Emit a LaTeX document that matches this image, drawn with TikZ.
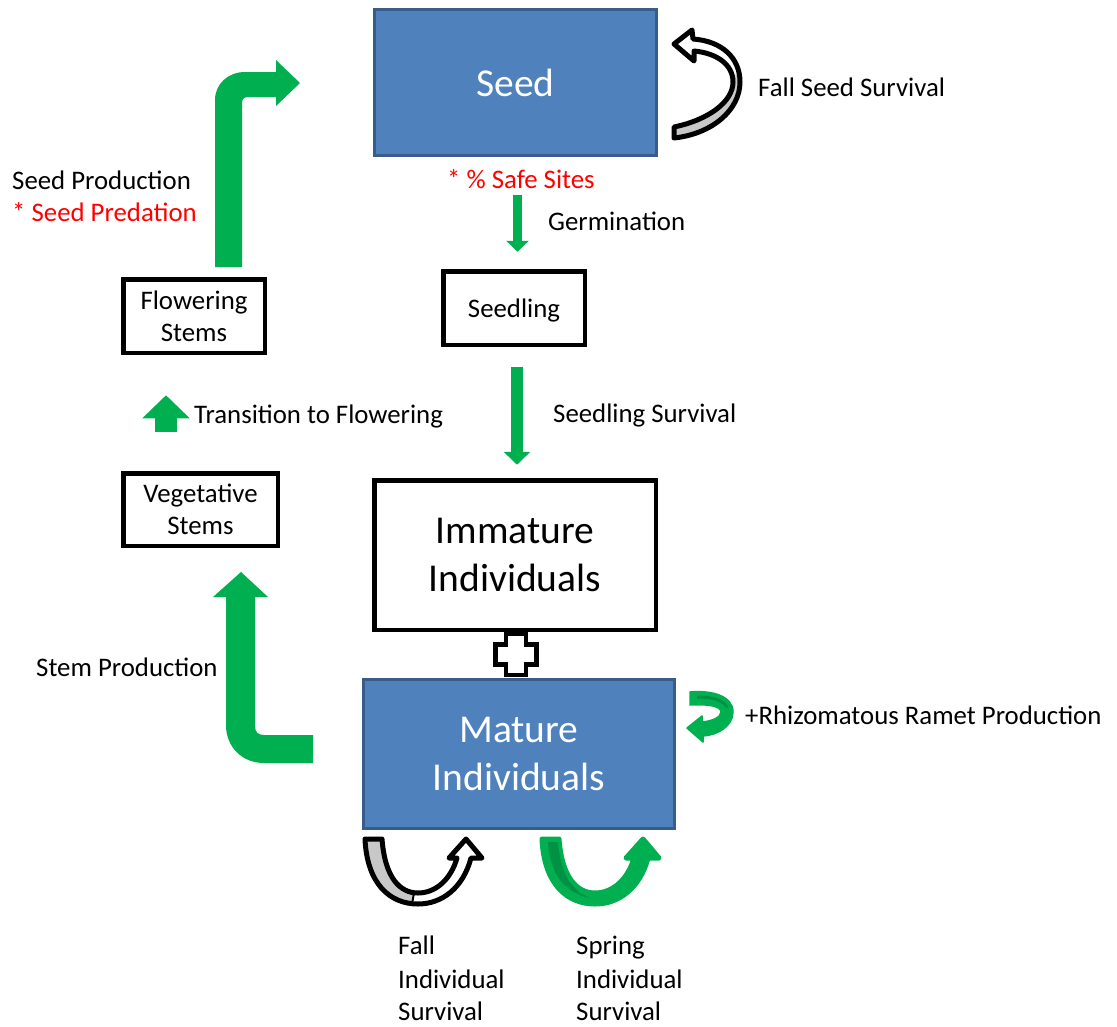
\documentclass[tikz,border=0pt]{standalone}
\usepackage{fontspec}
\setmainfont{Carlito}
\usetikzlibrary{arrows.meta,calc}
\definecolor{myblue}{RGB}{79,129,189}
\definecolor{mybluedark}{RGB}{56,93,138}
\definecolor{mygreen}{RGB}{0,176,80}
\definecolor{mydarkgreen}{RGB}{0,146,68}
\definecolor{mygray}{RGB}{200,200,200}
\definecolor{myred}{RGB}{255,0,0}
\tikzset{
  lbl/.style={font=\fontsize{26.8}{32}\selectfont, inner sep=0pt, anchor=base west},
  bluebox/.style={fill=myblue, draw=mybluedark, line width=3pt, inner sep=0pt, text=white,
    font=\fontsize{39.5}{48.5}\selectfont, align=center},
  blackbox/.style={draw=black, line width=4.5pt, fill=white, inner sep=0pt, align=center,
    font=\fontsize{26.8}{32}\selectfont},
  bigblack/.style={blackbox, font=\fontsize{39.5}{48.5}\selectfont},
  gflow/.style={draw=mygreen, line cap=butt},
}
\begin{document}
\begin{tikzpicture}[x=1pt,y=-1pt]
\fill[white] (0,0) rectangle (1117,1026);
\useasboundingbox (0,0) rectangle (1117,1026);

% ---------- boxes ----------
\node[bluebox, minimum width=282pt, minimum height=146pt] (seed) at (515.5,82.5) {Seed};
\node[blackbox, minimum width=141.5pt, minimum height=73.5pt, text depth=0pt] (seedling) at (514,308) {Seedling};
\node[blackbox, minimum width=141.5pt, minimum height=73.5pt] (flower) at (194,316) {Flowering\\Stems};
\node[blackbox, minimum width=154.5pt, minimum height=72.5pt] (veg) at (200.5,509.5) {Vegetative\\Stems};
\node[bigblack, minimum width=281.5pt, minimum height=149.5pt] (immature) at (515,555) {Immature\\Individuals};
\node[bluebox, minimum width=311pt, minimum height=149pt] (mature) at (519,754) {Mature\\Individuals};

% ---------- straight green arrows ----------
\draw[gflow, line width=9pt, -{Triangle[length=11pt,width=22pt]}]
  ($(seed.south)+(2,37.5)$) -- ($(seedling.north)+(3.5,-17.25)$);
\draw[gflow, line width=12pt, -{Triangle[length=13pt,width=26pt]}]
  ($(seedling.south)+(3,20.25)$) -- ($(immature.north)+(2,-13.25)$);
\draw[gflow, line width=22pt, -{Triangle[length=23pt,width=46pt]}]
  ($(veg.north)+(-34.5,-39.25)$) -- ($(flower.south)+(-28,40.25)$);

% ---------- bent arrow: seed production ----------
\fill[mygreen] (215,267) -- (215,100) .. controls (215,84) and (228,72) .. (245,72) -- (276,72)
  -- (276,60) -- (300,83) -- (276,106) -- (276,97) -- (248,97)
  .. controls (244,97) and (242,99) .. (242,103) -- (242,267) -- cycle;

% ---------- bent arrow: stem production ----------
\fill[mygreen] (226,597) -- (213,597) -- (241,572) -- (268,597) -- (255,597) -- (255,726)
  .. controls (255,732) and (258,735) .. (264,735) -- (313,735) -- (313,763) -- (264,763)
  .. controls (242,763) and (226,747) .. (226,725) -- cycle;

% ---------- plus sign ----------
\filldraw[fill=white, draw=black, line width=4.5pt]
  (506,634) -- (526,634) -- (526,644.5) -- (536.5,644.5) -- (536.5,664.5) -- (526,664.5)
  -- (526,675) -- (506,675) -- (506,664.5) -- (495.5,664.5) -- (495.5,644.5) -- (506,644.5) -- cycle;

% ---------- fall seed survival curved arrow ----------
\fill[white] (674,127) .. controls (708,120) and (733,102) .. (733,82) .. controls (733,64) and (716,53) .. (694,51)
  -- (694,61) -- (674,44) -- (692,30) -- (693,39) .. controls (722,41) and (740,58) .. (740,82)
  .. controls (740,110) and (712,134) .. (674,138) -- cycle;
\fill[mygray] (674,127) .. controls (708,120) and (733,102) .. (736,72) -- (740,82)
  .. controls (740,110) and (712,134) .. (674,138) -- cycle;
\draw[black, line width=5pt, line join=round] (674,127) .. controls (708,120) and (733,102) .. (733,82) .. controls (733,64) and (716,53) .. (694,51)
  -- (694,61) -- (674,44) -- (692,30) -- (693,39) .. controls (722,41) and (740,58) .. (740,82)
  .. controls (740,110) and (712,134) .. (674,138) -- cycle;

% ---------- fall individual survival U arrow ----------
\fill[white] (365,839) -- (382,839) .. controls (385,878) and (400,893) .. (418,893) .. controls (436,893) and (451,879) .. (457,858)
  -- (449,858) -- (466,839) -- (482,858) -- (471,858) .. controls (463,888) and (442,904) .. (418,904)
  .. controls (390,904) and (367,884) .. (365,839) -- cycle;
\fill[mygray] (365,839) -- (382,839) .. controls (385,878) and (400,893) .. (414,893) -- (412,904)
  .. controls (388,902) and (367,884) .. (365,839) -- cycle;
\draw[black, line width=5pt, line join=round] (365,839) -- (382,839) .. controls (385,878) and (400,893) .. (418,893) .. controls (436,893) and (451,879) .. (457,858)
  -- (449,858) -- (466,839) -- (482,858) -- (471,858) .. controls (463,888) and (442,904) .. (418,904)
  .. controls (390,904) and (367,884) .. (365,839) -- cycle;
\draw[black, line width=2pt] (414,893) -- (412,904);

% ---------- spring individual survival U arrow ----------
\begin{scope}[xshift=177pt]
\filldraw[fill=mygreen, draw=mygreen, line width=5pt, line join=round] (365,839) -- (382,839) .. controls (385,878) and (400,893) .. (418,893) .. controls (436,893) and (451,879) .. (457,858)
  -- (449,858) -- (466,839) -- (482,858) -- (471,858) .. controls (463,888) and (442,904) .. (418,904)
  .. controls (390,904) and (367,884) .. (365,839) -- cycle;
\fill[mydarkgreen] (371,842) -- (381,842) .. controls (384,876) and (395,890) .. (413,898)
  .. controls (389,893) and (373,876) .. (371,842) -- cycle;
\end{scope}

% ---------- rhizomatous curved arrow ----------
\filldraw[fill=mygreen, draw=mygreen, line width=1.5pt, line join=round]
  (690,692) .. controls (712,690) and (733,696) .. (733,712) .. controls (733,726) and (718,735) .. (703,736)
  -- (703,742) -- (687,728) -- (702,716) -- (702,722) .. controls (713,721) and (721,717) .. (721,712)
  .. controls (721,706) and (708,704) .. (690,705) -- cycle;
\draw[mydarkgreen, line width=3pt, line cap=round] (698,697) .. controls (712,697) and (723,700) .. (727,707);

% ---------- labels ----------
\node[lbl] (lfss) at (758,96) {Fall Seed Survival};
\node[lbl, text=myred] (lsafe) at (447,188) {* \% Safe Sites};
\node[lbl] (lgerm) at (548,230) {Germination};
\node[lbl] (lseedsurv) at (553,422) {Seedling Survival};
\node[lbl] (ltrans) at (194,423) {Transition to Flowering};
\node[lbl] (lsprod) at (12,189) {Seed Production};
\node[lbl, text=myred] (lspred) at (12,221) {* Seed Predation};
\node[lbl] (lstem) at (36,676) {Stem Production};
\node[lbl] (lrhiz) at (745,724) {+Rhizomatous Ramet Production};
\node[lbl] (lfall1) at (398,954) {Fall};
\node[lbl] (lfall2) at (398,988) {Individual};
\node[lbl] (lfall3) at (398,1020) {Survival};
\node[lbl] (lspr1) at (576,954) {Spring};
\node[lbl] (lspr2) at (576,988) {Individual};
\node[lbl] (lspr3) at (576,1020) {Survival};
\end{tikzpicture}
\end{document}
